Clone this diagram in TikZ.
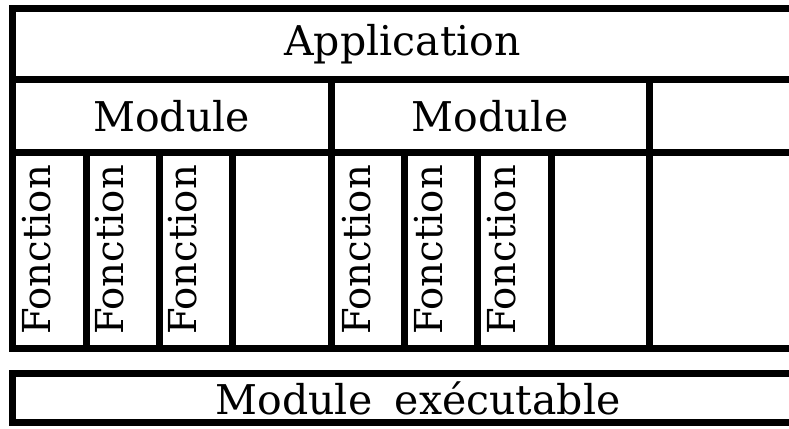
\documentclass[tikz,border=0pt]{standalone}
\usepackage{fontspec}
\setmainfont{DejaVu Serif}
\usetikzlibrary{positioning}

\begin{document}
\begin{tikzpicture}[x=1pt,y=1pt,node distance=0pt,
    every node/.style={inner sep=0pt,outer sep=0pt,font=\fontsize{41}{49}\selectfont},
    cell/.style={draw,line width=7pt,minimum height=196pt,anchor=south west},
    fonc/.style={rotate=90,anchor=base west,font=\fontsize{38.5}{46}\selectfont}]
  \useasboundingbox (0,0) rectangle (789,428);
  \clip (0,0) rectangle (789,428);
  % function row
  \node[cell,minimum width=74pt] (f1) at (12,79) {};
  \node[cell,minimum width=73pt,right=of f1] (f2) {};
  \node[cell,minimum width=73pt,right=of f2] (f3) {};
  \node[cell,minimum width=99pt,right=of f3] (e1) {};
  \node[cell,minimum width=73pt,right=of e1] (f4) {};
  \node[cell,minimum width=73pt,right=of f4] (f5) {};
  \node[cell,minimum width=74pt,right=of f5] (f6) {};
  \node[cell,minimum width=98pt,right=of f6] (e2) {};
  \node[cell,minimum width=150pt,right=of e2] (e3) {};
  % module row
  \node[cell,minimum width=319pt,minimum height=73pt,above right=of f1.north west] (m1) {Module};
  \node[cell,minimum width=318pt,minimum height=73pt,right=of m1] (m2) {Module};
  \node[cell,minimum width=150pt,minimum height=73pt,right=of m2] (m3) {};
  % application row
  \node[cell,minimum width=781pt,minimum height=71pt,above right=of m1.north west] (app) {Application};
  % executable
  \node[cell,minimum width=812pt,minimum height=48pt,below right=25pt and 0pt of f1.south west] (exe) {Module\hspace{0.55em}exécutable};
  % labels
  \node[fonc] (t1) at ([shift={(38,14)}]f1.south west) {Fonction};
  \node[fonc] (t2) at ([shift={(37,14)}]f2.south west) {Fonction};
  \node[fonc] (t3) at ([shift={(37,14)}]f3.south west) {Fonction};
  \node[fonc] (t4) at ([shift={(39,14)}]f4.south west) {Fonction};
  \node[fonc] (t5) at ([shift={(38,14)}]f5.south west) {Fonction};
  \node[fonc] (t6) at ([shift={(38,14)}]f6.south west) {Fonction};
\end{tikzpicture}
\end{document}
